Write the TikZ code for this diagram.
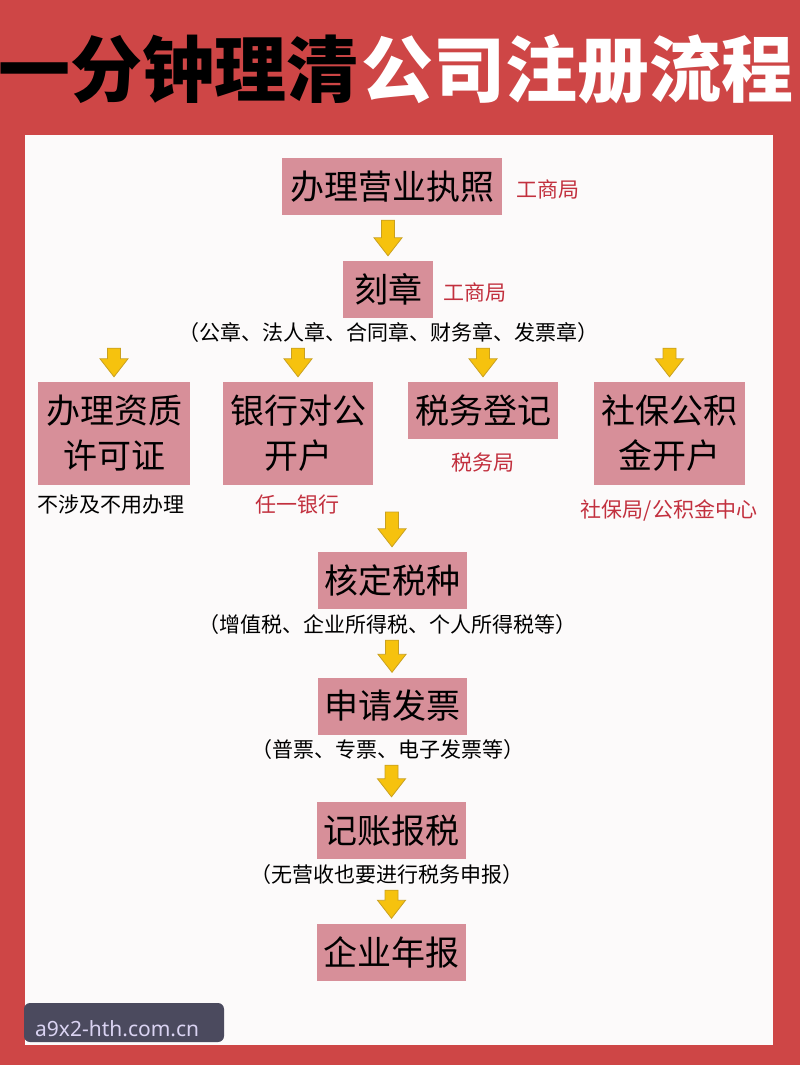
\documentclass[tikz,border=0pt]{standalone}
\usepackage{fontspec}
\newfontfamily\cjk{Noto Sans CJK SC}
\newfontfamily\wmfont{Noto Sans}
\usetikzlibrary{calc}
\definecolor{bgred}{HTML}{CE4646}
\definecolor{panel}{HTML}{FCFAFA}
\definecolor{boxpink}{HTML}{D78F99}
\definecolor{labelred}{HTML}{C2303E}
\definecolor{arrowfill}{HTML}{F6C20E}
\definecolor{arrowline}{HTML}{C9A020}
\definecolor{wmbg}{HTML}{4B4A5E}
\definecolor{wmtext}{HTML}{DAD3F2}
\newcommand\ydownarrow[2]{\draw[yarrow] let \p1=(#1), \p2=(#2) in
  (\x2-6.5pt,\y1-5pt) -- (\x2+6.5pt,\y1-5pt) -- (\x2+6.5pt,\y2+23pt) -- (\x2+14pt,\y2+23pt)
  -- (\x2,\y2+5pt) -- (\x2-14pt,\y2+23pt) -- (\x2-6.5pt,\y2+23pt) -- cycle;}
\tikzset{
  box/.style={fill=boxpink, text=black, font=\cjk\fontsize{34}{45}\selectfont, inner sep=0pt, align=center, minimum height=57pt},
  lbl/.style={font=\cjk\fontsize{21}{24}\selectfont, inner sep=0pt, text=black},
  redlbl/.style={lbl, text=labelred},
  yarrow/.style={fill=arrowfill, draw=arrowline, line width=0.8pt, line join=miter},
  titlefont/.style={font=\cjk\bfseries\fontsize{72}{80}\selectfont, inner sep=0pt}
}
\begin{document}
\begin{tikzpicture}[x=1pt,y=-1pt]
\useasboundingbox (0,0) rectangle (800,1065);
\fill[bgred] (0,0) rectangle (800,1065);
\fill[panel] (25,135) rectangle (773,1045);
% title
\node[titlefont, text=black, anchor=east] (t1) at (359,69) {一分钟理清};
\node[titlefont, text=white, anchor=west] (t2) at (361,69) {公司注册流程};
% top chain
\node[box, minimum width=220pt] (lic) at (392,186.5) {办理营业执照};
\node[redlbl] (lic-l) at (548,189) {工商局};
\node[box, minimum width=90pt] (seal) at (388,289.5) {刻章};
\node[redlbl] (seal-l) at (475,292) {工商局};
\node[lbl] (seals) at (388,333) {（公章、法人章、合同章、财务章、发票章）};
% row
\node[box, minimum width=152pt, minimum height=103pt] (qual) at (114,433.5) {办理资质\\许可证};
\node[lbl] (qual-l) at (111,505) {不涉及不用办理};
\node[box, minimum width=150pt, minimum height=103pt] (bank) at (298,433.5) {银行对公\\开户};
\node[redlbl] (bank-l) at (297,505) {任一银行};
\node[box, minimum width=150pt] (taxreg) at (483,410.5) {税务登记};
\node[redlbl] (taxreg-l) at (483,463) {税务局};
\node[box, minimum width=151pt, minimum height=103pt] (social) at (669.5,433.5) {社保公积\\金开户};
\node[redlbl] (social-l) at (669,510) {社保局/公积金中心};
\coordinate (split) at (388,507);
% lower chain
\node[box, minimum width=149pt] (taxtype) at (392,580.5) {核定税种};
\node[lbl] (taxtype-l) at (387,625) {（增值税、企业所得税、个人所得税等）};
\node[box, minimum width=149pt] (invoice) at (392,706) {申请发票};
\node[lbl] (invoice-l) at (388,750) {（普票、专票、电子发票等）};
\node[box, minimum width=149pt] (book) at (391.5,830.5) {记账报税};
\node[lbl] (book-l) at (387,875) {（无营收也要进行税务申报）};
\node[box, minimum width=149pt] (annual) at (391.5,952) {企业年报};
% arrows
\ydownarrow{lic.south}{seal.north}
\ydownarrow{seals.south}{qual.north}
\ydownarrow{seals.south}{bank.north}
\ydownarrow{seals.south}{taxreg.north}
\ydownarrow{seals.south}{social.north}
\ydownarrow{split}{taxtype.north}
\ydownarrow{taxtype-l.south}{invoice.north}
\ydownarrow{invoice-l.south}{book.north}
\ydownarrow{book-l.south}{annual.north}
% watermark
\node[fill=wmbg, rounded corners=6pt, minimum width=200pt, minimum height=39pt, inner sep=0pt] (wm) at (124,1022.5) {};
\node[font=\wmfont\fontsize{21}{24}\selectfont, text=wmtext, inner sep=0pt, anchor=base west] (wm-t) at (35,1036) {a9x2-hth.com.cn};
\end{tikzpicture}
\end{document}
